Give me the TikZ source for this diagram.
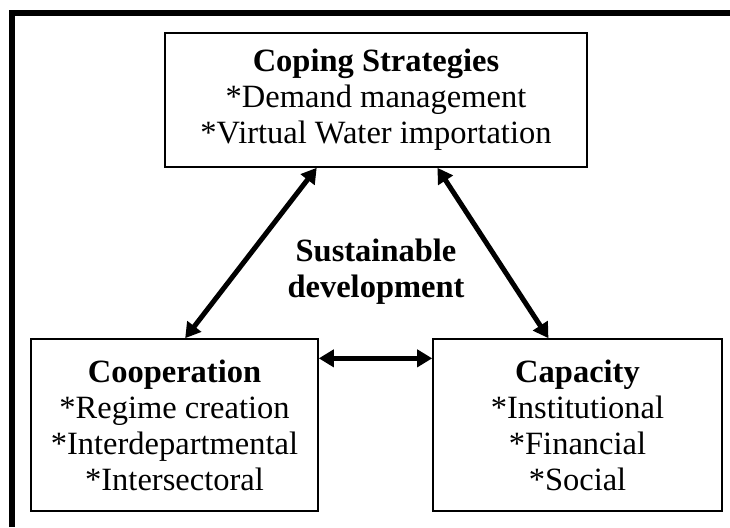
\documentclass[tikz,border=0pt]{standalone}
\usepackage{fontspec}
\setmainfont{Liberation Serif}
\usetikzlibrary{positioning, calc, arrows.meta}
\tikzset{
	arrow/.style={line width=5pt, {Triangle[length=15pt,width=17pt]}-{Triangle[length=15pt,width=17pt]}},
	block/.style={draw, line width=1.6pt, align=center, inner sep=0pt, font=\fontsize{32.5}{36}\selectfont},
}

\begin{document}
\begin{tikzpicture}[x=1pt, y=-1pt]
	\useasboundingbox (0,0) rectangle (730,527);
	\draw[line width=6pt] (11.5,527) -- (11.5,13) -- (730,13);

	\node[block, minimum width=422pt, minimum height=134pt] (coping) at (376,100)
		{\textbf{Coping Strategies}\\*Demand management\\*Virtual Water importation};
	\node[block, minimum width=287pt, minimum height=172pt] (coop) at (174.5,425)
		{\textbf{Cooperation}\\*Regime creation\\*Interdepartmental\\*Intersectoral};
	\node[block, minimum width=289pt, minimum height=172pt] (capacity) at (577.5,425)
		{\textbf{Capacity}\\*Institutional\\*Financial\\*Social};

	\node[align=center, font=\fontsize{32.5}{36}\selectfont\bfseries] (sust) at (376,272) {Sustainable\\development};

	\draw[arrow] ($(coping.south west)!0.36!(coping.south east)$) -- ($(coop.north west)!0.537!(coop.north east)$);
	\draw[arrow] ($(coping.south west)!0.645!(coping.south east)$) -- ($(capacity.north west)!0.40!(capacity.north east)$);
	\draw[arrow] ($(coop.north east)!0.116!(coop.south east)$) -- ($(capacity.north west)!0.116!(capacity.south west)$);
\end{tikzpicture}
\end{document}
